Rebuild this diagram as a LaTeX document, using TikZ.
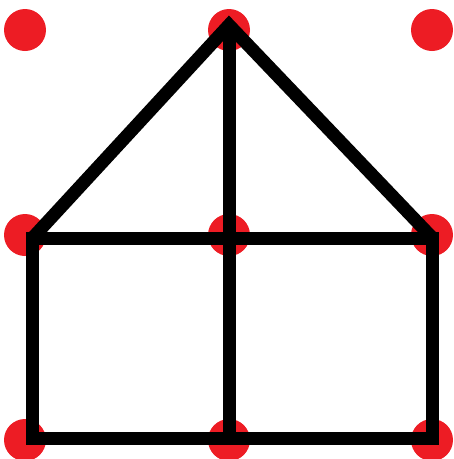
\documentclass[tikz,border=0pt]{standalone}
\usepackage{tikz}
\usetikzlibrary{positioning}
\definecolor{dotred}{RGB}{237,28,36}

\begin{document}
\begin{tikzpicture}[
  x=1pt, y=-1pt,
  dot/.style={circle, fill=dotred, inner sep=0pt, minimum size=42pt},
  wall/.style={draw=black, line width=13pt, miter limit=10}
]
  \useasboundingbox (0,0) rectangle (454,459);
  % grid of dots
  \node[dot] (tl) at (25,30) {};
  \node[dot] (tm) at (229,30) {};
  \node[dot] (tr) at (432,30) {};
  \node[dot] (ml) at (25,235) {};
  \node[dot] (mm) at (229,235) {};
  \node[dot] (mr) at (432,235) {};
  \node[dot] (bl) at (25,440) {};
  \node[dot] (bm) at (229,440) {};
  \node[dot] (br) at (432,440) {};
  % house corners
  \coordinate (roof) at (229,25);
  \coordinate (eaveL) at (32.5,238);
  \coordinate (eaveR) at (432.5,238);
  \coordinate (baseL) at (32.5,438);
  \coordinate (baseM) at (229,438);
  \coordinate (baseR) at (432.5,438);
  \draw[wall] (eaveL) -- (roof) -- (eaveR);
  \draw[wall] (eaveL) -- (eaveR) -- (baseR) -- (baseL) -- cycle;
  \draw[wall] (roof) -- (baseM);
\end{tikzpicture}
\end{document}
